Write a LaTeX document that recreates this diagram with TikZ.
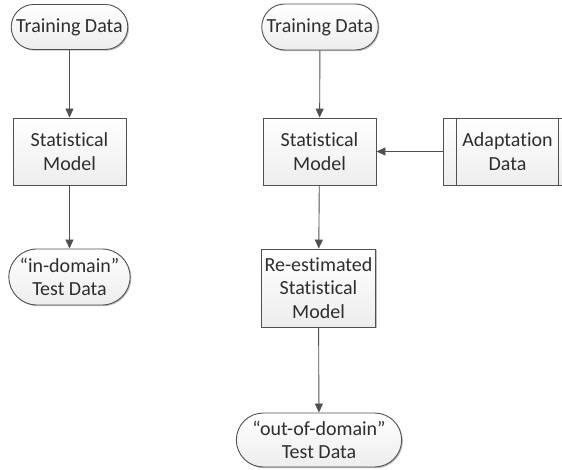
\documentclass[tikz,border=0pt]{standalone}
\usepackage{fontspec}
\setmainfont{Carlito}[Ligatures={NoCommon,TeX}]
\usetikzlibrary{arrows.meta, positioning, shapes.misc, shadows}
\definecolor{flowline}{HTML}{505050}
\definecolor{flowtext}{HTML}{2E2E2E}

\tikzset{
  flowbox/.style={draw=flowline, line width=0.9pt, top color=white, bottom color=gray!14,
    text=flowtext, align=center, font=\fontsize{20}{23.5}\selectfont,
    drop shadow={shadow xshift=1.2pt, shadow yshift=-1.2pt, fill=black, opacity=0.25}},
  procbox/.style={flowbox, rectangle, minimum width=113pt},
  termbox/.style={flowbox, rounded rectangle},
  flowarrow/.style={draw=flowline, line width=0.9pt, -{Triangle[width=8pt, length=9pt]}},
}

\begin{document}
\begin{tikzpicture}[x=1pt, y=-1pt]
  \clip (0,0) rectangle (562,470);
  \fill[white] (0,0) rectangle (562,470);

  % baseline system
  \node[termbox, minimum width=115pt, minimum height=45pt] (trainA) at (69.5,27) {Training Data};
  \node[procbox, minimum height=67pt] (modelA) at (69.5,151.5) {Statistical\\Model};
  \node[termbox, minimum width=115pt, minimum height=56pt] (testA) at (69.5,277) {“in-domain”\\Test Data};

  % adapted system
  \node[termbox, minimum width=116pt, minimum height=46pt] (trainB) at (320,27) {Training Data};
  \node[procbox, minimum height=67pt] (modelB) at (319.5,151.5) {Statistical\\Model};
  \node[procbox, minimum width=129pt, minimum height=67pt] (adapt) at (507.5,151.5) {Adaptation\\Data};
  \draw[flowline, line width=0.9pt] ([xshift=14pt]adapt.north west) -- ([xshift=14pt]adapt.south west);
  \draw[flowline, line width=0.9pt] ([xshift=-14pt]adapt.north east) -- ([xshift=-14pt]adapt.south east);
  \node[procbox, minimum height=78pt] (remodel) at (318.5,288) {Re-estimated\\Statistical\\Model};
  \node[termbox, minimum width=172pt, minimum height=54pt] (testB) at (319,440) {“out-of-domain”\\Test Data};

  \draw[flowarrow] (trainA) -- (modelA);
  \draw[flowarrow] (modelA) -- (testA);
  \draw[flowarrow] (trainB) -- (modelB);
  \draw[flowarrow] (adapt) -- (modelB);
  \draw[flowarrow] (modelB) -- (remodel);
  \draw[flowarrow] (remodel) -- (testB);
\end{tikzpicture}
\end{document}
